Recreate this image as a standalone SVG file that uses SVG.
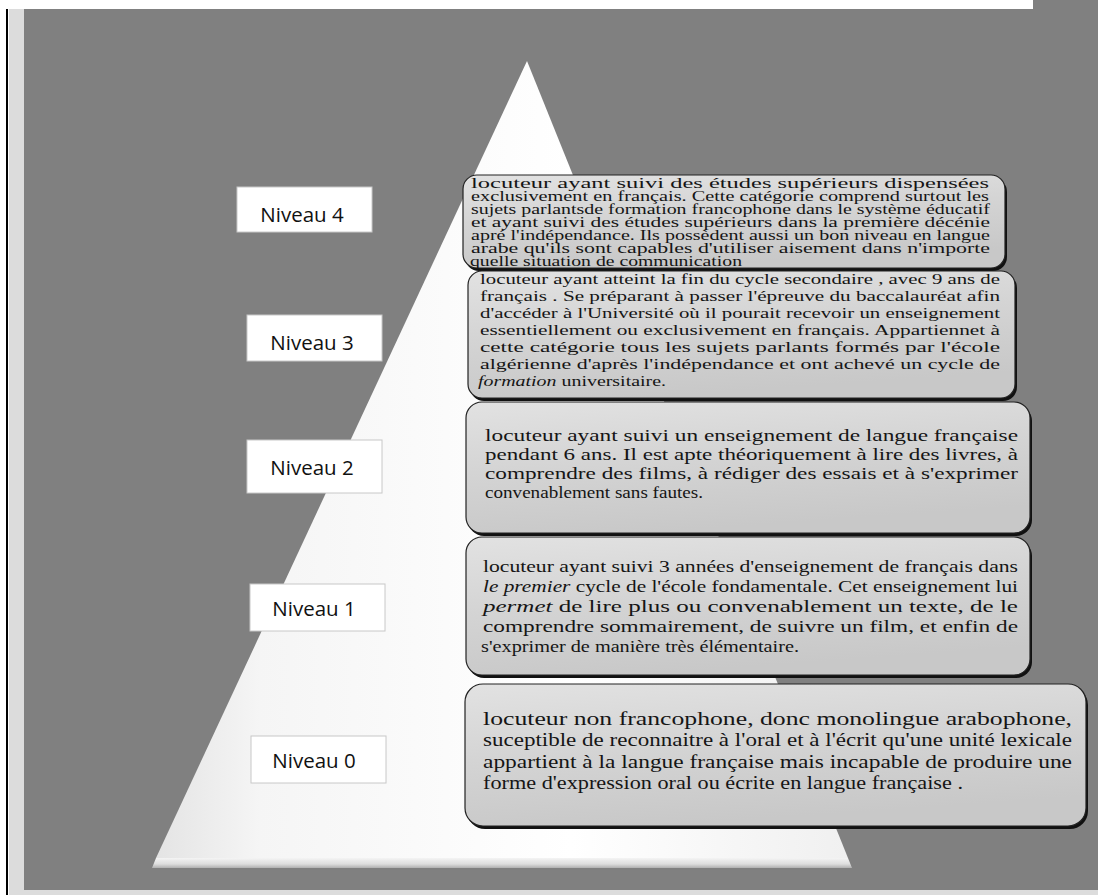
<svg xmlns="http://www.w3.org/2000/svg" width="1103" height="895" viewBox="0 0 1103 895">
<defs>
<style>
.lbl{fill:#fff;stroke:#c8c8c8;stroke-width:1}
.lt{font-family:"Open Sans","Liberation Sans",sans-serif;font-size:20.5px;fill:#111;text-anchor:middle}
.bx{fill:url(#boxg);stroke:#222;stroke-width:1.2}
.sh{fill:#111}
.tx{font-family:"Liberation Serif","Times New Roman",serif;fill:#151515}
.t4{font-size:13.6px}
.t3{font-size:15.5px}
.t2{font-size:17.5px}
.t1{font-size:17.5px}
.t0{font-size:18.5px}
.it{font-style:italic}
</style>
<linearGradient id="boxg" x1="0" y1="0" x2="0.3" y2="1">
<stop offset="0" stop-color="#e2e2e2"/>
<stop offset="0.5" stop-color="#d4d4d4"/>
<stop offset="1" stop-color="#c8c8c8"/>
</linearGradient>
<linearGradient id="pyr" x1="0" y1="0" x2="1" y2="0">
<stop offset="0" stop-color="#e4e4e4"/>
<stop offset="0.15" stop-color="#f5f5f5"/>
<stop offset="0.6" stop-color="#ffffff"/>
<stop offset="1" stop-color="#f0f0f0"/>
</linearGradient>
<linearGradient id="base" x1="0" y1="0" x2="0" y2="1">
<stop offset="0" stop-color="#f4f4f4"/>
<stop offset="0.6" stop-color="#dedede"/>
<stop offset="1" stop-color="#b0b0b0"/>
</linearGradient>
</defs>
<g id="background">
<rect x="0" y="0" width="1103" height="895" fill="#ffffff"/>
<rect x="9" y="9" width="1089" height="886" fill="#dcdcdc"/>
<rect x="24" y="9" width="1074" height="881" fill="#808080"/>
<rect x="1033" y="0" width="65" height="9" fill="#808080"/>
<line x1="7" y1="9" x2="7" y2="895" stroke="#000" stroke-width="2"/>
</g>
<g id="pyramid">
<polygon points="527,61 848,858 156,858" fill="url(#pyr)"/>
<polygon points="156,858 848,858 852,868 152,868" fill="url(#base)"/>
</g>
<g id="connectors"></g>
<g id="label4"><rect class="lbl" x="237" y="187" width="135" height="45"/><text class="lt" x="302" y="222">Niveau 4</text></g>
<g id="label3"><rect class="lbl" x="247" y="315" width="135" height="46"/><text class="lt" x="312" y="350">Niveau 3</text></g>
<g id="label2"><rect class="lbl" x="247" y="440" width="135" height="53"/><text class="lt" x="312" y="475">Niveau 2</text></g>
<g id="label1"><rect class="lbl" x="250" y="584" width="135" height="47"/><text class="lt" x="314" y="616">Niveau 1</text></g>
<g id="label0"><rect class="lbl" x="251" y="736" width="135" height="47"/><text class="lt" x="314" y="768">Niveau 0</text></g>
<g id="box4">
<rect class="sh" x="465" y="178" width="542" height="93" rx="14"/>
<rect class="bx" x="463" y="175" width="542" height="93" rx="14"/>
<g class="tx t4">
<text x="471" y="188" textLength="518" lengthAdjust="spacingAndGlyphs">locuteur ayant suivi des études supérieurs dispensées</text>
<text x="471" y="201" textLength="518" lengthAdjust="spacingAndGlyphs">exclusivement en français. Cette catégorie comprend surtout les</text>
<text x="471" y="214" textLength="519" lengthAdjust="spacingAndGlyphs">sujets parlantsde formation francophone dans le système éducatif</text>
<text x="471" y="227" textLength="519" lengthAdjust="spacingAndGlyphs">et ayant suivi des études supérieurs dans la première décénie</text>
<text x="471" y="240" textLength="519" lengthAdjust="spacingAndGlyphs">apré l'indépendance. Ils possèdent aussi un bon niveau en langue</text>
<text x="471" y="253" textLength="519" lengthAdjust="spacingAndGlyphs">arabe qu'ils sont capables d'utiliser aisement dans n'importe</text>
<text x="470" y="266" textLength="272" lengthAdjust="spacingAndGlyphs">quelle situation de communication</text>
</g>
</g>
<g id="box3">
<rect class="sh" x="470" y="274" width="547" height="127" rx="14"/>
<rect class="bx" x="468" y="271" width="547" height="127" rx="14"/>
<g class="tx t3">
<text x="480" y="284" textLength="520" lengthAdjust="spacingAndGlyphs">locuteur ayant atteint la fin du cycle secondaire , avec 9 ans de</text>
<text x="480" y="301" textLength="520" lengthAdjust="spacingAndGlyphs">français . Se préparant  à passer l'épreuve du baccalauréat afin</text>
<text x="480" y="318" textLength="520" lengthAdjust="spacingAndGlyphs">d'accéder à l'Université où il pourait recevoir un enseignement</text>
<text x="480" y="335" textLength="520" lengthAdjust="spacingAndGlyphs">essentiellement ou exclusivement en français.  Appartiennet à</text>
<text x="480" y="352" textLength="520" lengthAdjust="spacingAndGlyphs">cette catégorie tous les sujets parlants  formés  par l'école</text>
<text x="480" y="369" textLength="520" lengthAdjust="spacingAndGlyphs">algérienne d'après l'indépendance et ont achevé un cycle de</text>
<text x="478" y="386" textLength="188" lengthAdjust="spacingAndGlyphs"><tspan class="it">formation</tspan> universitaire.</text>
</g>
</g>
<g id="box2">
<rect class="sh" x="468" y="405" width="564" height="131" rx="16"/>
<rect class="bx" x="466" y="402" width="564" height="131" rx="16"/>
<g class="tx t2">
<text x="485" y="441" textLength="533" lengthAdjust="spacingAndGlyphs">locuteur ayant suivi un enseignement de langue française</text>
<text x="485" y="460" textLength="533" lengthAdjust="spacingAndGlyphs">pendant 6 ans. Il est apte théoriquement à lire des livres, à</text>
<text x="485" y="479" textLength="533" lengthAdjust="spacingAndGlyphs">comprendre des films, à rédiger des essais et à s'exprimer</text>
<text x="485" y="498" textLength="218" lengthAdjust="spacingAndGlyphs">convenablement sans fautes.</text>
</g>
</g>
<g id="box1">
<rect class="sh" x="468" y="540" width="564" height="138" rx="16"/>
<rect class="bx" x="466" y="537" width="564" height="138" rx="16"/>
<g class="tx t1">
<text x="483" y="572" textLength="535" lengthAdjust="spacingAndGlyphs">locuteur ayant suivi 3 années d'enseignement de français dans</text>
<text x="483" y="592" textLength="535" lengthAdjust="spacingAndGlyphs"><tspan class="it">le premier</tspan> cycle de l'école fondamentale. Cet enseignement lui</text>
<text x="483" y="612" textLength="535" lengthAdjust="spacingAndGlyphs"><tspan class="it">permet</tspan>  de lire plus ou convenablement un texte, de le</text>
<text x="483" y="632" textLength="535" lengthAdjust="spacingAndGlyphs">comprendre sommairement, de suivre un film, et enfin de</text>
<text x="481" y="652" textLength="318" lengthAdjust="spacingAndGlyphs">s'exprimer de manière très élémentaire.</text>
</g>
</g>
<g id="box0">
<rect class="sh" x="467" y="687" width="621" height="142" rx="18"/>
<rect class="bx" x="465" y="684" width="621" height="142" rx="18"/>
<g class="tx t0">
<text x="483" y="725" textLength="589" lengthAdjust="spacingAndGlyphs">locuteur non francophone, donc monolingue arabophone,</text>
<text x="483" y="746" textLength="589" lengthAdjust="spacingAndGlyphs">suceptible de reconnaitre à l'oral et à l'écrit qu'une unité lexicale</text>
<text x="483" y="768" textLength="589" lengthAdjust="spacingAndGlyphs">appartient à la langue française mais incapable de produire une</text>
<text x="483" y="789" textLength="480" lengthAdjust="spacingAndGlyphs">forme d'expression oral ou écrite en langue française .</text>
</g>
</g>
</svg>
